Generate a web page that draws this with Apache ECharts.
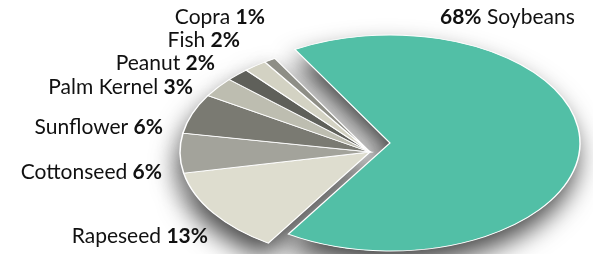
<!DOCTYPE html>
<html>
<head>
<meta charset="utf-8">
<script src="https://cdn.jsdelivr.net/npm/echarts@6/dist/echarts.min.js"></script>
<style>
  html, body { margin: 0; padding: 0; background: #fff; }
  #main { width: 593px; height: 254px; }
</style>
</head>
<body>
<div id="main"></div>
<script>
// data
const names = ["Soybeans", "Rapeseed", "Cottonseed", "Sunflower", "Palm Kernel", "Peanut", "Fish", "Copra"];
const shares = [68, 13, 6, 6, 3, 2, 2, 1];
const colors = ["#52bfa6", "#deddcf", "#a3a39b", "#7a7a72", "#bdbdb0", "#5f605a", "#d3d2c3", "#8e8e86"];

// layout
const cx = 370, cy = 152, rx = 190, ry = 108;
const startDeg = -120;
const explode = [20, -9]; // soybeans pulled out
// label anchors: [x, y, align]
const labelPos = [
  [440, 17, "left"],
  [208, 236, "right"],
  [162, 172, "right"],
  [163, 127, "right"],
  [193, 87, "right"],
  [215, 63, "right"],
  [240, 40, "right"],
  [265, 17, "right"]
];

const total = shares.reduce((a, b) => a + b, 0);
const chart = echarts.init(document.getElementById("main"), null, { renderer: "canvas" });

const renderItem = (params, api) => {
  const i = params.dataIndex;
  let before = 0;
  for (let k = 0; k < i; k++) before += shares[k];
  const a0 = (startDeg + before / total * 360) * Math.PI / 180;
  const a1 = (startDeg + (before + api.value(0)) / total * 360) * Math.PI / 180;
  const off = i === 0 ? explode : [0, 0];
  const sy = ry / rx;
  const shape = { cx: 0, cy: 0, r0: 0, r: rx, startAngle: a0, endAngle: a1, clockwise: true };
  const pct = api.value(0) + "%";
  const txt = i === 0 ? "{b|" + pct + "} " + names[i] : names[i] + " {b|" + pct + "}";
  const lp = labelPos[i];
  return {
    type: "group",
    children: [
      {
        type: "sector",
        x: cx + off[0], y: cy + off[1], scaleY: sy,
        shape: shape,
        z2: 0,
        style: {
          fill: "#fff",
          shadowBlur: 26,
          shadowOffsetX: -3,
          shadowOffsetY: 14,
          shadowColor: "rgba(0,0,0,0.72)"
        }
      },
      {
        type: "sector",
        x: cx + off[0], y: cy + off[1], scaleY: sy,
        shape: shape,
        z2: 10,
        style: {
          fill: colors[i],
          stroke: "#fff",
          lineWidth: 1.5,
          strokeNoScale: true
        }
      },
      {
        type: "text",
        x: lp[0], y: lp[1],
        z2: 20,
        style: {
          text: txt,
          align: lp[2],
          verticalAlign: "middle",
          fill: "#111",
          font: "21px Lato",
          rich: {
            b: { fontWeight: "bold", fontSize: 21, fontFamily: "Lato", fill: "#111" }
          }
        }
      }
    ]
  };
};

chart.setOption({
  animation: false,
  series: [{
    type: "custom",
    coordinateSystem: "none",
    renderItem: renderItem,
    data: shares.map((v, i) => ({ name: names[i], value: [v] }))
  }]
});
</script>
</body>
</html>
